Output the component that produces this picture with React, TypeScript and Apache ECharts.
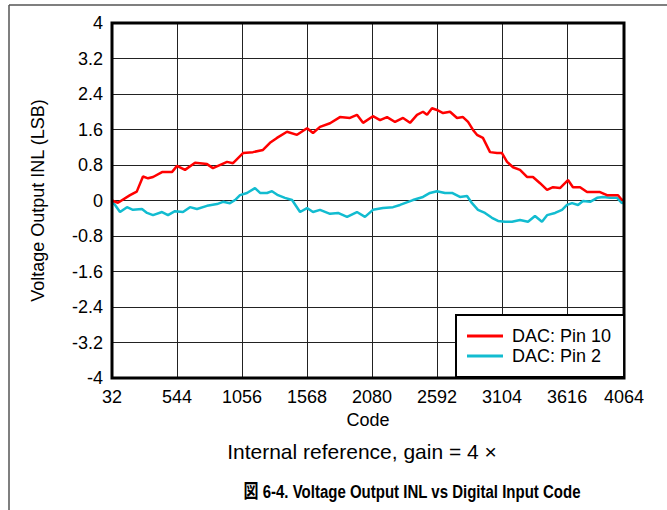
import React, { useEffect, useRef } from "react";
import * as echarts from "echarts";

const xTicks = [32, 544, 1056, 1568, 2080, 2592, 3104, 3616, 4064];
const yTicks = [-4, -3.2, -2.4, -1.6, -0.8, 0, 0.8, 1.6, 2.4, 3.2, 4];

const pin10Codes = [32, 79, 174, 227, 276, 316, 355, 426, 504, 544, 607, 686, 780, 827, 938, 985, 1064, 1142, 1221, 1276, 1331, 1410, 1489, 1568, 1615, 1670, 1749, 1827, 1906, 1961, 2009, 2087, 2143, 2198, 2261, 2324, 2379, 2434, 2481, 2513, 2552, 2591, 2639, 2694, 2749, 2796, 2836, 2875, 2906, 2953, 3009, 3064, 3103, 3143, 3190, 3245, 3300, 3347, 3403, 3458, 3505, 3560, 3599, 3623, 3662, 3718, 3773, 3820, 3875, 3930, 3977, 4017, 4048, 4064];
const pin10Values = [0.0, -0.05, 0.12, 0.2, 0.54, 0.5, 0.53, 0.64, 0.64, 0.78, 0.69, 0.85, 0.82, 0.73, 0.87, 0.84, 1.07, 1.09, 1.14, 1.3, 1.41, 1.55, 1.48, 1.63, 1.52, 1.66, 1.74, 1.88, 1.86, 1.93, 1.75, 1.9, 1.81, 1.88, 1.77, 1.86, 1.75, 1.93, 2.0, 1.93, 2.08, 2.04, 1.97, 2.0, 1.86, 1.88, 1.77, 1.59, 1.48, 1.41, 1.09, 1.07, 1.07, 0.87, 0.75, 0.69, 0.53, 0.53, 0.39, 0.24, 0.3, 0.28, 0.39, 0.46, 0.3, 0.3, 0.19, 0.19, 0.19, 0.12, 0.12, 0.12, 0.01, 0.02];

const pin2Codes = [32, 56, 95, 150, 197, 268, 308, 355, 426, 473, 528, 591, 646, 701, 780, 859, 906, 961, 1001, 1040, 1095, 1158, 1198, 1253, 1292, 1339, 1394, 1450, 1513, 1568, 1615, 1670, 1749, 1812, 1883, 1961, 2024, 2087, 2166, 2245, 2300, 2402, 2481, 2536, 2591, 2654, 2710, 2772, 2828, 2867, 2914, 2969, 3024, 3072, 3127, 3182, 3245, 3308, 3363, 3418, 3458, 3521, 3576, 3615, 3655, 3702, 3741, 3797, 3852, 3899, 3954, 4009, 4048, 4064];
const pin2Values = [-0.03, -0.1, -0.26, -0.15, -0.21, -0.19, -0.28, -0.33, -0.26, -0.33, -0.24, -0.26, -0.15, -0.19, -0.12, -0.08, -0.03, -0.06, 0.01, 0.12, 0.17, 0.28, 0.17, 0.17, 0.21, 0.12, 0.06, 0.01, -0.26, -0.17, -0.26, -0.21, -0.3, -0.28, -0.37, -0.26, -0.37, -0.21, -0.17, -0.15, -0.1, 0.01, 0.08, 0.17, 0.21, 0.17, 0.17, 0.08, 0.1, -0.06, -0.21, -0.28, -0.39, -0.46, -0.48, -0.48, -0.44, -0.48, -0.35, -0.48, -0.33, -0.28, -0.21, -0.1, -0.06, -0.1, -0.01, -0.03, 0.06, 0.08, 0.06, 0.06, -0.06, -0.03];

const seriesNames = ["DAC: Pin 10", "DAC: Pin 2"];
const xAxisName = "Code";
const yAxisName = "Voltage Output INL (LSB)";
const subtitle = "Internal reference, gain = 4 ×";
const caption = "図 6-4. Voltage Output INL vs Digital Input Code";

const FONT = "'Liberation Sans', Arial, 'Noto Sans CJK JP', sans-serif";

export default function App() {
  const ref = useRef<HTMLDivElement>(null);
  useEffect(() => {
    if (!ref.current) return;
    const chart = echarts.init(ref.current, undefined, { renderer: "svg" });
    const zip = (xs: number[], ys: number[]) => xs.map((x, i) => [x, ys[i]]);
    chart.setOption({
      animation: false,
      backgroundColor: "#fff",
      textStyle: { fontFamily: FONT },
      grid: {
        left: 112,
        top: 23,
        width: 512,
        height: 355,
        show: true,
        borderColor: "#000",
        borderWidth: 3,
        backgroundColor: "transparent",
        z: 3,
      },
      xAxis: {
        type: "value",
        min: 32,
        max: 4064,
        name: xAxisName,
        nameLocation: "middle",
        nameGap: 32,
        nameTextStyle: { fontSize: 18, color: "#000", fontFamily: FONT },
        axisLine: { show: false },
        axisTick: { show: false, customValues: xTicks },
        axisLabel: {
          customValues: xTicks,
          fontSize: 18,
          color: "#000",
          margin: 10,
          fontFamily: FONT,
          formatter: (v: number) => String(Math.round(v)),
        },
        splitLine: { show: true, lineStyle: { color: "#222", width: 1 } },
      },
      yAxis: {
        type: "value",
        min: -4,
        max: 4,
        name: yAxisName,
        nameLocation: "middle",
        nameGap: 65,
        nameTextStyle: { fontSize: 18, color: "#000", fontFamily: FONT },
        axisLine: { show: false },
        axisTick: { show: false, customValues: yTicks },
        axisLabel: {
          customValues: yTicks,
          fontSize: 18,
          color: "#000",
          margin: 9,
          fontFamily: FONT,
          formatter: (v: number) => String(Math.round(v * 10) / 10),
        },
        splitLine: { show: true, lineStyle: { color: "#222", width: 1 } },
      },
      legend: {
        left: 456,
        top: 315,
        orient: "vertical",
        backgroundColor: "#fff",
        borderColor: "#000",
        borderWidth: 2,
        padding: [12, 13, 12, 11],
        itemGap: 2,
        itemWidth: 36,
        itemHeight: 3,
        icon: "rect",
        textStyle: { fontSize: 18, color: "#000", fontFamily: FONT, padding: [0, 0, 0, 4] },
        data: seriesNames,
        z: 10,
      },
      series: [
        {
          name: seriesNames[0],
          type: "line",
          data: zip(pin10Codes, pin10Values),
          showSymbol: false,
          lineStyle: { color: "#ff0000", width: 2.5 },
          itemStyle: { color: "#ff0000" },
          z: 2,
        },
        {
          name: seriesNames[1],
          type: "line",
          data: zip(pin2Codes, pin2Values),
          showSymbol: false,
          lineStyle: { color: "#12bcd0", width: 2.5 },
          itemStyle: { color: "#12bcd0" },
          z: 1,
        },
      ],
      graphic: [
        { type: "line", shape: { x1: 9, y1: 5, x2: 667, y2: 5 }, style: { stroke: "#555", lineWidth: 1.5 } },
        { type: "line", shape: { x1: 9, y1: 5, x2: 9, y2: 510 }, style: { stroke: "#555", lineWidth: 1.5 } },
        {
          type: "text",
          x: 362,
          y: 451,
          style: { text: subtitle, fontSize: 21, fill: "#000", fontFamily: FONT, textAlign: "center", textVerticalAlign: "middle" },
        },
        {
          type: "text",
          x: 412,
          y: 492,
          scaleX: 0.79,
          style: { text: caption, fontSize: 19, fontWeight: "bold", fill: "#000", fontFamily: FONT, textAlign: "center", textVerticalAlign: "middle" },
        },
      ],
    });
    return () => chart.dispose();
  }, []);
  return <div ref={ref} style={{ width: 667, height: 510, position: "absolute", left: 0, top: 0 }} />;
}
